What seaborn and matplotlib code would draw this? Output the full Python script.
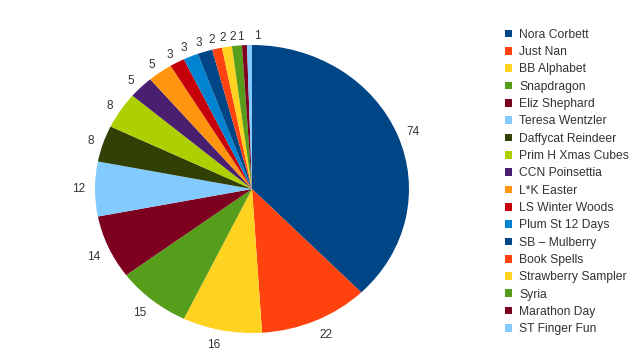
import matplotlib
matplotlib.use("Agg")
import matplotlib.pyplot as plt
import seaborn as sns

names = ["Nora Corbett", "Just Nan", "BB Alphabet", "Snapdragon", "Eliz Shephard",
         "Teresa Wentzler", "Daffycat Reindeer", "Prim H Xmas Cubes", "CCN Poinsettia",
         "L*K Easter", "LS Winter Woods", "Plum St 12 Days", "SB \u2013 Mulberry",
         "Book Spells", "Strawberry Sampler", "Syria", "Marathon Day", "ST Finger Fun"]
values = [74, 22, 16, 15, 14, 12, 8, 8, 5, 5, 3, 3, 3, 2, 2, 2, 1, 1]
colors = ["#004586", "#ff420e", "#ffd320", "#579d1c", "#7e0021", "#83caff",
          "#314004", "#aecf00", "#4b1f6f", "#ff950e", "#c5000b", "#0084d1",
          "#004586", "#ff420e", "#ffd320", "#579d1c", "#7e0021", "#83caff"]

sns.set_theme(style="white")
plt.rcParams['font.family'] = ['Liberation Sans', 'DejaVu Sans']

fig = plt.figure(figsize=(6.4, 3.59), dpi=100)
cx, cy, rx, ry = 252, 189, 157, 144
bw, bh = 170, 170
ax = fig.add_axes([(cx - bw) / 640, (359 - cy - bh) / 359, 2 * bw / 640, 2 * bh / 359])
wedges, texts = ax.pie(values, colors=colors, startangle=90, counterclock=False,
                       labels=[str(v) for v in values], labeldistance=1.06,
                       radius=1.0, wedgeprops=dict(linewidth=0),
                       textprops=dict(fontsize=8.5, color="#333333"))
ax.set_aspect("auto")
ax.set_xlim(-bw / rx, bw / rx)
ax.set_ylim(-bh / ry, bh / ry)
ax.axis("off")
# labels below the centre hang from their anchor point
for t in texts:
    x, y = t.get_position()
    if y < -0.3:
        t.set_verticalalignment("top")
# the last small label sits to the right of its neighbour, as in the original
last = texts[-1]
last.set_position((5.0 / rx, last.get_position()[1]))
last.set_horizontalalignment("center")

leg = fig.legend(wedges, names, loc="upper left", bbox_to_anchor=(500 / 640, 1 - 24 / 359),
                 frameon=False, fontsize=8.7, handlelength=0.6, handleheight=0.6,
                 handletextpad=0.6, labelspacing=0.44, borderaxespad=0)
for t in leg.get_texts():
    t.set_color("#333333")

fig.savefig("out.png", dpi=100)
